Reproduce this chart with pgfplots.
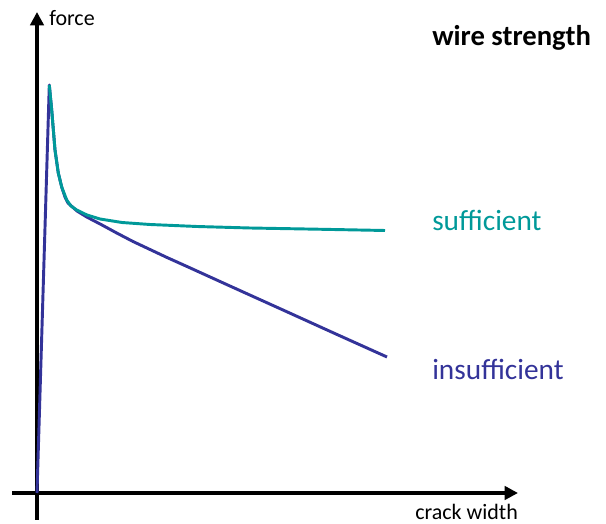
\documentclass[border=0pt]{standalone}
\usepackage{pgfplots}
\pgfplotsset{compat=1.18}
\usepackage{fontspec}
\setmainfont{Carlito}
\usetikzlibrary{arrows.meta}
\definecolor{tealc}{RGB}{0,153,153}
\definecolor{bluec}{RGB}{51,51,153}
\begin{document}
\begin{tikzpicture}
\begin{axis}[
  scale only axis,
  width=379.5pt, height=381pt,
  xmin=-25, xmax=481, ymin=-27, ymax=481,
  axis lines=middle,
  axis line style={line width=2.6pt, -{Triangle[length=10pt,width=10pt]}},
  xtick=\empty, ytick=\empty,
  clip=false,
]
\path[use as bounding box] (axis cs:-37,-31) rectangle (axis cs:569,493);
\addplot[bluec, line width=2.2pt, line join=round] coordinates {
 (0,0) (12.3,408) (14.7,383) (18,343) (21.3,320) (24.7,306) (28,296) (31,290)
 (40,282) (49.7,276) (65,268) (79.7,260) (96,251.5) (113,243.5) (130,235.5) (150,226.5) (183,211.5) (215,197) (246,183) (300,158.5) (350,136)};
\addplot[tealc, line width=2.2pt, line join=round] coordinates {
 (12.3,408) (14.7,383) (18,343) (21.3,320) (24.7,306) (29.7,293) (34,287) (39.7,283)
 (50,278) (63,274) (85,270.5) (113,268.5) (160,266.5) (213,265) (280,263.8) (348,262.5)};
\node[anchor=west, font=\fontsize{16.5}{18}\selectfont, inner sep=0pt] at (axis cs:12,475) {force};
\node[anchor=west, font=\fontsize{16.5}{18}\selectfont, inner sep=0pt] at (axis cs:378,-19) {crack width};
\node[anchor=west, font=\fontsize{21.5}{24}\selectfont\bfseries, inner sep=0pt] at (axis cs:395,455) {wire strength};
\node[anchor=west, font=\fontsize{22}{24}\selectfont, text=tealc, inner sep=0pt] at (axis cs:395,273) {sufficient};
\node[anchor=west, font=\fontsize{22}{24}\selectfont, text=bluec, inner sep=0pt] at (axis cs:395,124) {insufficient};
\end{axis}
\end{tikzpicture}
\end{document}
